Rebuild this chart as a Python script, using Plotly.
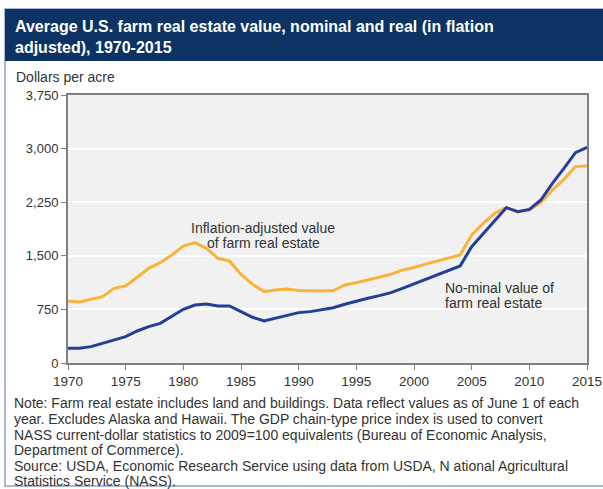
import plotly.graph_objects as go

years = list(range(1970, 2016))
nominal = [205, 205, 229, 275, 322, 369, 448, 509, 555, 649,
           752, 812, 826, 798, 798, 720, 640, 588, 626, 672,
           705, 719, 742, 774, 822, 868, 906, 943, 985, 1045,
           1106, 1171, 1232, 1292, 1358, 1628, 1815, 2001, 2174, 2118,
           2150, 2281, 2514, 2723, 2943, 3019]
real = [868, 854, 892, 929, 1045, 1078, 1199, 1325, 1404, 1511,
        1637, 1684, 1605, 1465, 1428, 1240, 1100, 999, 1022, 1036,
        1013, 1008, 1008, 1013, 1092, 1124, 1162, 1194, 1241, 1302,
        1337, 1383, 1425, 1467, 1511, 1791, 1954, 2094, 2174, 2118,
        2141, 2243, 2421, 2570, 2748, 2757]
y_ticks = [0, 750, 1500, 2250, 3000, 3750]
x_ticks = list(range(1970, 2016, 5))

title_lines = ["Average U.S. farm real estate value, nominal and real (in flation",
               "adjusted), 1970-2015"]
note_lines = ["Note: Farm real estate includes land and buildings. Data reflect values as of June 1 of each",
              "year. Excludes Alaska and Hawaii. The GDP chain-type price index is used to convert",
              "NASS current-dollar statistics to 2009=100 equivalents (Bureau of Economic Analysis,",
              "Department of Commerce).",
              "Source: USDA, Economic Research Service using data from USDA, N ational Agricultural",
              "Statistics Service (NASS)."]
real_label = ["Inflation-adjusted value", "of farm real estate"]
nominal_label = ["No-minal value of", "farm real estate"]

W, H = 603, 489
L, R, T, B = 68, 16, 95, 126
PW, PH = W - L - R, H - T - B
FONT = "Liberation Sans, Arial, sans-serif"
TXT = "#333333"


def px(x):
    return (x - L) / PW


def py(y):
    return (H - B - y) / PH


fig = go.Figure()
fig.add_trace(go.Scatter(x=years, y=real, mode="lines",
                         line=dict(color="#f9b23a", width=3), showlegend=False))
fig.add_trace(go.Scatter(x=years, y=nominal, mode="lines",
                         line=dict(color="#233f98", width=3), showlegend=False))

shapes = [
    dict(type="rect", xref="paper", yref="paper", x0=px(5), x1=px(606), y0=py(486), y1=py(9),
         line=dict(color="#a9bad0", width=2), fillcolor="rgba(0,0,0,0)", layer="below"),
    dict(type="rect", xref="paper", yref="paper", x0=px(5), x1=px(606), y0=py(61), y1=py(9),
         line=dict(width=0), fillcolor="#0c3363", layer="below"),
]

annotations = []


def add_text(text, x, y, size, color=TXT, anchor="left", bold=False):
    annotations.append(dict(
        text=f"<b>{text}</b>" if bold else text,
        xref="paper", yref="paper", x=px(x), y=py(y), xanchor=anchor, yanchor="middle",
        showarrow=False, font=dict(color=color, size=size, family=FONT)))


for i, t in enumerate(title_lines):
    add_text(t, 13, [26, 47.5][i], 16, color="white", bold=True)
add_text("Dollars per acre", 14, 77.5, 14)
for i, t in enumerate(real_label):
    add_text(t, 263, [227.7, 243][i], 14, anchor="center")
for i, t in enumerate(nominal_label):
    add_text(t, 443, [287.7, 303.3][i], 14)
for i, t in enumerate(note_lines):
    add_text(t, 12, [403.3, 419, 434.5, 450, 465.7, 481.4][i], 14)

fig.update_layout(
    width=W, height=H,
    margin=dict(l=L, r=R, t=T, b=B, pad=0),
    paper_bgcolor="white",
    plot_bgcolor="#f1f1f1",
    shapes=shapes,
    annotations=annotations,
    font=dict(family=FONT, color=TXT, size=13),
)
fig.update_xaxes(range=[1970, 2015], tickvals=x_ticks, ticks="outside", ticklen=5,
                 tickcolor="#808080", showgrid=False, showline=True, linecolor="#808080",
                 linewidth=2, mirror=True, zeroline=False, automargin=False,
                 tickfont=dict(size=13.5, color=TXT))
fig.update_yaxes(range=[0, 3750], tickvals=y_ticks, tickformat=",", ticks="outside", ticklen=5,
                 tickcolor="#808080", showgrid=True, gridcolor="white", gridwidth=2,
                 showline=True, linecolor="#808080", linewidth=2, mirror=True, zeroline=False,
                 automargin=False, tickfont=dict(size=13, color=TXT))

fig.write_html("out.html", config={"displayModeBar": False},
               post_script="document.body.style.margin='0';document.body.style.overflow='hidden';")
